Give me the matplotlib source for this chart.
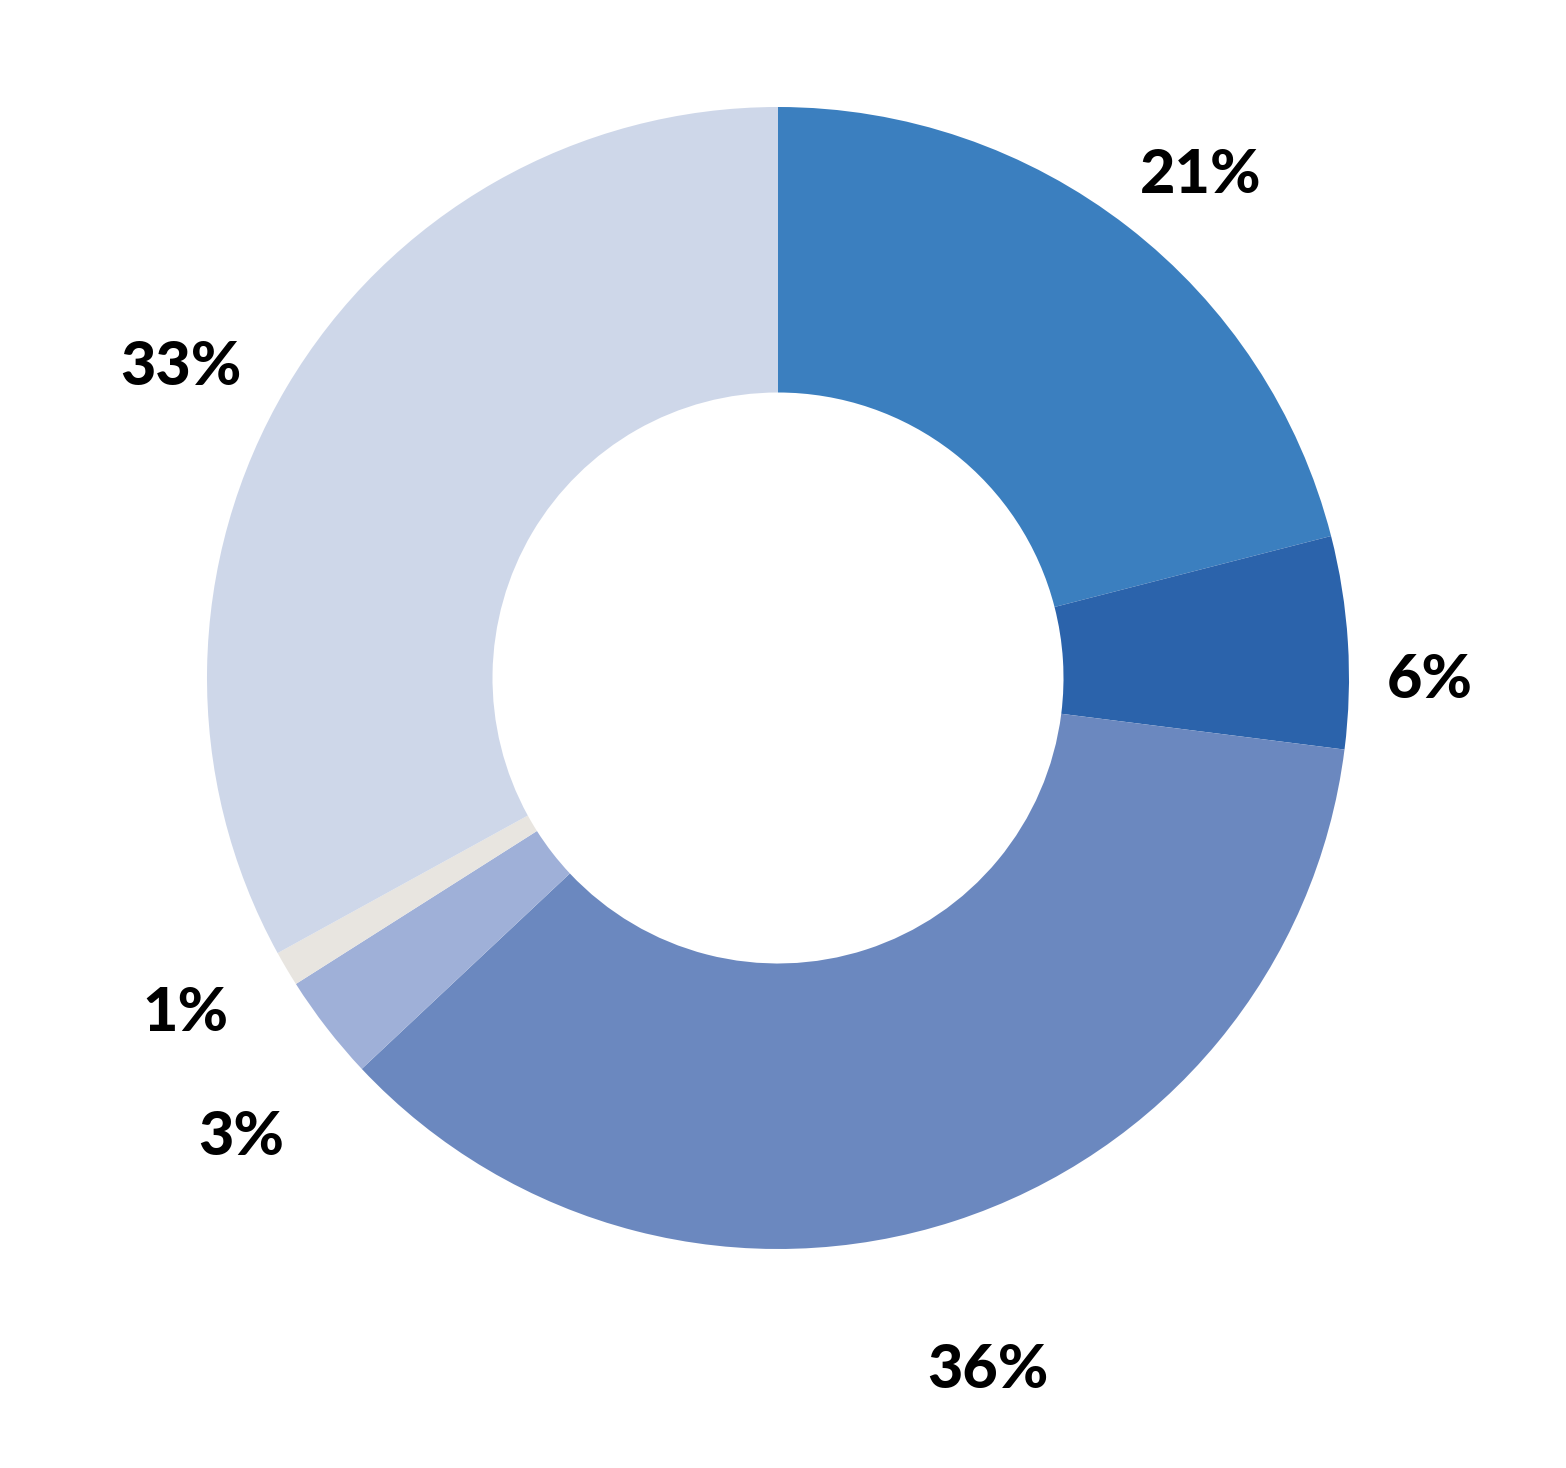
#! /usr/bin/env python3
"""Donut chart of six shares, labelled with bold percentages outside the ring."""

import matplotlib
matplotlib.use("Agg")
import matplotlib.pyplot as plt

# chart data (clockwise from 12 o'clock)
shares = [21, 6, 36, 3, 1, 33]
labels = ["21%", "6%", "36%", "3%", "1%", "33%"]
colors = ["#3b7fbf", "#2b63ab", "#6b88bf", "#9fb0d8", "#e8e5e0", "#ced7e9"]

# label centres, in units of the outer radius
label_pos = [(0.740, 0.889), (1.142, 0.005), (0.368, -1.203),
             (-0.940, -0.795), (-1.037, -0.578), (-1.046, 0.553)]

fig = plt.figure(figsize=(15.66, 14.68), dpi=100)
ax = fig.add_axes([0, 0, 1, 1])

ax.pie(
    shares,
    colors=colors,
    startangle=90,
    counterclock=False,
    radius=1.0,
    wedgeprops=dict(width=0.5, linewidth=0),
)

for text, (x, y) in zip(labels, label_pos):
    ax.text(x, y, text, ha="center", va="center_baseline", fontsize=44,
            fontweight="black", family=["Lato", "DejaVu Sans"], color="black")

# place the ring where the reference has it
r_px = 571
cx, cy = 778, 1468 - 678
ax.set_xlim(-cx / r_px, (1566 - cx) / r_px)
ax.set_ylim(-cy / r_px, (1468 - cy) / r_px)
ax.set_aspect("equal")
ax.axis("off")

fig.savefig("out.png", dpi=100, facecolor="white")
